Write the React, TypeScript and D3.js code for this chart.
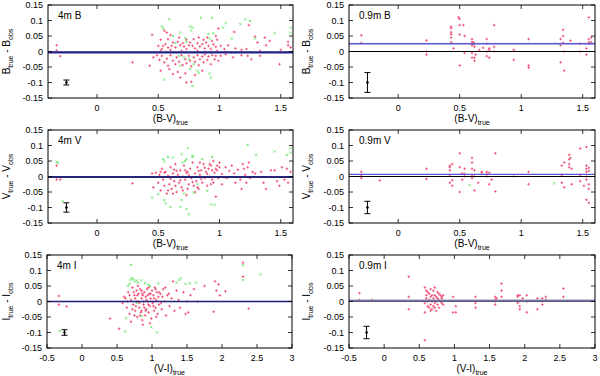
import { useEffect, useRef } from 'react';
import * as d3 from 'd3';

type Pt = [number, number];

const yTicks = [-0.15, -0.1, -0.05, 0, 0.05, 0.1, 0.15];
const bvTicks = [0, 0.5, 1, 1.5];
const viTicks = [-0.5, 0, 0.5, 1, 1.5, 2, 2.5, 3];

// 4m telescope, B band: [ (B-V)true , Btrue - Bobs ]
const red4mB: Pt[] = [
  [-0.33, 0.02], [-0.33, 0.003], [-0.3, -0.015], [0.29, -0.035], [0.43, -0.046], [0.45, 0.054], [0.46, -0.019],
  [0.49, -0.012], [0.5, 0.018], [0.51, -0.027], [0.52, 0.038], [0.52, 0.002], [0.52, -0.062], [0.53, -0.014],
  [0.53, 0.008], [0.54, 0.018], [0.55, 0.067], [0.55, -0.035], [0.56, 0.024], [0.56, -0.001], [0.57, 0.061],
  [0.57, -0.023], [0.58, 0.013], [0.58, -0.046], [0.58, 0.04], [0.59, -0.057], [0.6, 0.053], [0.6, -0.012],
  [0.6, 0.005], [0.61, 0.018], [0.62, 0.029], [0.62, -0.03], [0.62, -0.073], [0.64, 0.013], [0.64, -0.041],
  [0.65, -0.019], [0.65, -0.003], [0.66, 0.031], [0.66, -0.066], [0.67, -0.033], [0.67, 0.045], [0.68, 0.02],
  [0.68, -0.084], [0.69, -0.012], [0.69, 0.002], [0.7, 0.027], [0.7, -0.044], [0.71, 0.016], [0.72, -0.025],
  [0.72, -0.07], [0.73, 0.038], [0.73, -0.038], [0.73, 0.008], [0.73, -0.1], [0.75, 0.02], [0.75, -0.014],
  [0.76, 0.029], [0.76, -0.03], [0.76, -0.001], [0.77, -0.048], [0.77, -0.098], [0.78, 0.018], [0.79, -0.019],
  [0.79, 0.04], [0.8, 0.01], [0.8, -0.033], [0.8, -0.076], [0.82, 0.027], [0.82, -0.012], [0.82, 0.002],
  [0.83, -0.044], [0.83, 0.045], [0.84, 0.016], [0.84, -0.025], [0.86, 0.024], [0.86, -0.016], [0.86, -0.062],
  [0.87, -0.035], [0.87, 0.038], [0.88, 0.01], [0.88, -0.009], [0.88, -0.001], [0.89, 0.029], [0.9, -0.027],
  [0.9, 0.045], [0.91, 0.018], [0.91, -0.016], [0.93, 0.008], [0.93, -0.041], [0.93, -0.003], [0.94, -0.012],
  [0.94, 0.034], [0.95, 0.023], [0.96, -0.025], [0.97, 0.015], [0.97, -0.014], [0.97, 0.05], [0.98, 0.038],
  [0.98, 0.002], [0.99, 0.074], [0.99, -0.03], [1.01, 0.018], [1.01, -0.014], [1.04, 0.008], [1.05, -0.009],
  [1.07, 0.02], [1.11, -0.019], [1.12, 0.063], [1.13, 0.01], [1.18, 0.005], [1.18, -0.012], [1.22, 0.008],
  [1.23, -0.014], [1.24, 0.085], [1.26, -0.025], [1.29, 0.048], [1.31, 0.029], [1.33, 0.002], [1.33, -0.014],
  [1.37, 0.045], [1.38, 0.02], [1.41, 0.034], [1.49, -0.041], [1.5, 0.005], [1.54, -0.003], [1.56, 0.031],
  [1.56, 0.02], [1.58, 0.013],
];
const green4mB: Pt[] = [
  [0.53, 0.081], [0.54, 0.074], [0.55, -0.091], [0.59, 0.104], [0.62, 0.05], [0.64, 0.027], [0.67, -0.014],
  [0.68, 0.061], [0.68, -0.046], [0.71, -0.019], [0.72, 0.043], [0.73, 0.031], [0.75, -0.025], [0.76, 0.08],
  [0.76, -0.057], [0.77, 0.067], [0.78, 0.077], [0.78, -0.111], [0.79, -0.041], [0.82, -0.062], [0.83, -0.07],
  [0.85, 0.109], [0.91, 0.056], [0.92, 0.042], [0.92, -0.071], [0.93, -0.084], [0.94, 0.109], [0.95, 0.059],
  [1.03, 0.077], [1.05, 0.091], [1.1, 0.042], [1.17, 0.088], [1.21, 0.104], [1.25, 0.098], [1.29, 0.042],
  [1.45, 0.059], [1.58, 0.077], [1.58, 0.061],
];

// 4m telescope, V band: [ (B-V)true , Vtrue - Vobs ]
const red4mV: Pt[] = [
  [-0.33, 0.035], [-0.33, -0.01], [-0.3, -0.01], [0.29, -0.022], [0.45, 0.01], [0.46, -0.035], [0.48, 0.012],
  [0.5, -0.02], [0.51, 0.005], [0.52, -0.045], [0.52, 0.015], [0.53, 0.025], [0.54, -0.01], [0.55, -0.03],
  [0.55, 0.012], [0.56, 0.015], [0.57, -0.055], [0.58, 0.002], [0.58, -0.045], [0.59, -0.025], [0.6, 0.03],
  [0.6, -0.008], [0.61, -0.04], [0.62, 0.01], [0.62, -0.055], [0.63, -0.015], [0.63, 0.022], [0.64, 0.04],
  [0.64, -0.03], [0.65, -0.05], [0.65, 0.018], [0.66, 0.005], [0.67, -0.02], [0.68, 0.02], [0.68, -0.012],
  [0.69, -0.035], [0.7, 0.0], [0.7, -0.045], [0.71, 0.035], [0.72, -0.01], [0.72, 0.02], [0.73, -0.06],
  [0.73, 0.012], [0.74, 0.015], [0.74, -0.04], [0.75, -0.025], [0.75, 0.005], [0.76, 0.025], [0.77, -0.005],
  [0.78, 0.045], [0.78, -0.018], [0.79, -0.03], [0.8, 0.01], [0.8, -0.05], [0.81, -0.015], [0.82, 0.03],
  [0.82, -0.035], [0.83, -0.04], [0.83, 0.018], [0.84, 0.005], [0.84, 0.045], [0.85, 0.02], [0.85, -0.008],
  [0.86, -0.02], [0.87, 0.04], [0.88, -0.005], [0.88, 0.028], [0.89, 0.015], [0.9, -0.03], [0.9, 0.008],
  [0.91, 0.025], [0.92, 0.0], [0.92, 0.04], [0.93, 0.035], [0.93, -0.025], [0.94, -0.01], [0.94, 0.02],
  [0.95, 0.05], [0.95, -0.02], [0.96, 0.012], [0.97, -0.065], [0.97, 0.025], [0.98, 0.02], [0.98, 0.035],
  [0.99, -0.005], [1.0, 0.03], [1.0, 0.045], [1.02, 0.008], [1.02, -0.025], [1.04, -0.002], [1.05, 0.03],
  [1.06, -0.005], [1.08, 0.018], [1.1, 0.035], [1.12, 0.01], [1.13, -0.02], [1.15, 0.022], [1.17, -0.01],
  [1.18, -0.04], [1.19, 0.04], [1.2, 0.025], [1.21, 0.005], [1.22, -0.02], [1.23, 0.03], [1.24, 0.045],
  [1.25, -0.005], [1.27, 0.015], [1.29, 0.01], [1.34, 0.015], [1.36, -0.02], [1.38, -0.04], [1.42, 0.02],
  [1.45, 0.02], [1.47, -0.015], [1.49, -0.03], [1.51, 0.03], [1.53, -0.01], [1.55, 0.025], [1.56, -0.02],
  [1.58, 0.015],
];
const green4mV: Pt[] = [
  [-0.33, 0.047], [-0.32, 0.044], [-0.28, -0.08], [0.45, -0.068], [0.5, -0.057], [0.54, 0.056], [0.55, 0.048],
  [0.55, -0.076], [0.56, -0.087], [0.58, 0.063], [0.6, -0.098], [0.62, 0.061], [0.68, -0.098], [0.69, 0.072],
  [0.69, -0.076], [0.7, 0.045], [0.71, -0.055], [0.72, 0.05], [0.73, 0.056], [0.73, -0.105], [0.74, 0.091],
  [0.75, -0.122], [0.78, 0.067], [0.78, 0.063], [0.79, -0.052], [0.82, -0.025], [0.86, 0.056], [0.9, -0.046],
  [0.93, -0.09], [0.94, 0.063], [0.96, -0.091], [1.23, 0.102], [1.3, 0.07], [1.45, 0.081], [1.55, 0.07],
  [1.58, 0.077], [1.58, 0.091],
];

// 4m telescope, I band: [ (V-I)true , Itrue - Iobs ]
const red4mI: Pt[] = [
  [-0.33, 0.018], [-0.33, -0.01], [-0.22, -0.016], [0.4, -0.055], [0.53, -0.088], [0.58, -0.005], [0.6, 0.015],
  [0.62, 0.01], [0.64, -0.02], [0.65, 0.0], [0.66, 0.03], [0.68, -0.04], [0.68, 0.02], [0.7, 0.005],
  [0.7, -0.065], [0.72, 0.045], [0.72, -0.025], [0.73, -0.01], [0.74, 0.03], [0.75, 0.02], [0.75, -0.045],
  [0.76, -0.03], [0.76, 0.01], [0.77, -0.015], [0.78, 0.035], [0.78, 0.0], [0.79, -0.05], [0.79, 0.02],
  [0.8, 0.0], [0.8, 0.05], [0.81, 0.025], [0.82, -0.02], [0.82, -0.005], [0.83, 0.04], [0.83, -0.045],
  [0.84, -0.035], [0.85, 0.01], [0.85, 0.035], [0.85, -0.03], [0.86, -0.06], [0.86, 0.025], [0.87, 0.02],
  [0.87, -0.075], [0.88, -0.01], [0.88, 0.0], [0.89, 0.03], [0.89, -0.02], [0.9, -0.045], [0.91, 0.015],
  [0.91, -0.03], [0.92, -0.025], [0.92, 0.005], [0.93, 0.04], [0.94, 0.0], [0.94, 0.02], [0.95, -0.035],
  [0.95, 0.045], [0.95, -0.01], [0.96, 0.025], [0.97, -0.015], [0.97, -0.07], [0.98, 0.01], [0.98, 0.025],
  [0.99, -0.055], [1.0, 0.035], [1.0, 0.0], [1.01, -0.005], [1.02, 0.02], [1.02, -0.015], [1.03, -0.03],
  [1.03, 0.01], [1.04, 0.045], [1.05, -0.02], [1.05, 0.04], [1.06, 0.005], [1.06, -0.05], [1.07, 0.03],
  [1.08, -0.04], [1.09, 0.015], [1.1, -0.01], [1.1, 0.03], [1.12, 0.025], [1.13, -0.005], [1.14, -0.025],
  [1.15, 0.015], [1.16, 0.04], [1.18, 0.0], [1.19, 0.045], [1.2, -0.045], [1.22, 0.02], [1.24, 0.025],
  [1.25, -0.015], [1.28, 0.01], [1.3, 0.065], [1.32, -0.03], [1.35, 0.035], [1.38, 0.005], [1.4, -0.02],
  [1.45, 0.03], [1.48, -0.04], [1.5, 0.0], [1.52, -0.035], [1.55, 0.02], [1.6, 0.04], [1.65, 0.0],
  [1.75, 0.05], [1.88, -0.033], [1.9, 0.065], [1.92, 0.035], [1.95, 0.055], [1.97, 0.02], [2.05, 0.033],
  [2.3, 0.125], [2.3, 0.08], [2.38, -0.023],
];
const green4mI: Pt[] = [
  [-0.32, -0.095], [0.62, -0.097], [0.63, -0.054], [0.66, 0.05], [0.68, 0.057], [0.69, 0.07], [0.7, 0.118],
  [0.71, 0.075], [0.73, 0.072], [0.75, 0.065], [0.78, 0.068], [0.78, -0.005], [0.8, 0.061], [0.85, 0.068],
  [0.85, -0.048], [0.9, 0.059], [0.95, 0.054], [0.97, 0.05], [0.99, -0.083], [1.07, -0.1], [1.09, 0.059],
  [1.35, 0.061], [1.39, 0.07], [1.41, 0.075], [1.48, 0.057], [1.54, 0.059], [1.63, 0.061], [2.3, 0.117],
  [2.3, 0.07], [2.55, 0.087],
];

// 0.9m telescope, B band
const red09B: Pt[] = [
  [-0.3, 0.052], [-0.3, 0.027], [0.23, 0.036], [0.23, 0.0], [0.23, -0.01], [0.43, 0.08], [0.43, 0.075],
  [0.43, 0.062], [0.43, 0.055], [0.43, 0.045], [0.43, 0.03], [0.45, 0.01], [0.49, 0.11], [0.5, 0.105],
  [0.5, 0.085], [0.5, 0.055], [0.5, -0.045], [0.53, 0.085], [0.54, 0.05], [0.54, -0.005], [0.6, 0.04],
  [0.6, 0.03], [0.6, 0.022], [0.6, 0.02], [0.6, -0.005], [0.6, -0.02], [0.61, 0.03], [0.61, 0.026],
  [0.62, 0.025], [0.62, -0.03], [0.62, -0.02], [0.62, 0.015], [0.63, -0.01], [0.66, 0.005], [0.69, 0.012],
  [0.72, 0.04], [0.72, 0.025], [0.72, 0.0], [0.72, -0.015], [0.74, 0.005], [0.74, -0.02], [0.74, 0.01],
  [0.78, 0.085], [0.78, 0.015], [0.78, 0.0], [0.94, 0.005], [0.94, -0.027], [1.06, 0.04], [1.06, -0.045],
  [1.06, -0.052], [1.32, 0.04], [1.32, -0.035], [1.32, 0.02], [1.34, 0.07], [1.34, 0.05], [1.34, 0.028],
  [1.35, -0.062], [1.35, 0.0], [1.4, 0.035], [1.48, 0.025], [1.48, 0.0], [1.53, 0.01], [1.53, -0.01],
  [1.55, 0.11], [1.55, 0.04], [1.55, 0.03], [1.55, 0.025], [1.57, 0.045], [1.57, 0.03],
];

// 0.9m telescope, V band
const red09V: Pt[] = [
  [-0.3, 0.015], [-0.3, 0.005], [-0.3, -0.005], [-0.15, -0.013], [0.23, 0.025], [0.23, -0.008], [0.42, 0.03],
  [0.42, 0.035], [0.42, 0.02], [0.42, 0.005], [0.42, -0.02], [0.44, -0.012], [0.44, -0.03], [0.44, 0.04],
  [0.5, 0.075], [0.5, 0.03], [0.5, -0.05], [0.52, 0.01], [0.52, -0.01], [0.54, 0.025], [0.54, 0.008],
  [0.54, 0.0], [0.6, 0.06], [0.6, 0.045], [0.6, 0.025], [0.6, 0.005], [0.6, -0.005], [0.62, 0.02],
  [0.62, 0.0], [0.62, -0.045], [0.65, -0.02], [0.68, 0.015], [0.68, 0.012], [0.72, 0.015], [0.72, 0.008],
  [0.72, 0.0], [0.74, 0.012], [0.74, -0.025], [0.76, -0.01], [0.79, 0.075], [0.79, -0.048], [0.94, 0.0],
  [1.06, 0.015], [1.06, -0.025], [1.33, 0.035], [1.33, 0.005], [1.33, -0.02], [1.35, 0.045], [1.35, -0.035],
  [1.39, 0.07], [1.39, 0.055], [1.4, 0.06], [1.39, 0.04], [1.39, 0.03], [1.41, 0.025], [1.41, -0.025],
  [1.48, 0.09], [1.48, 0.005], [1.48, -0.015], [1.51, -0.03], [1.53, 0.095], [1.53, 0.035], [1.53, 0.025],
  [1.53, 0.015], [1.53, 0.0], [1.53, -0.01], [1.53, -0.075], [1.55, 0.028], [1.55, 0.018], [1.55, -0.025],
  [1.55, -0.04], [1.55, -0.085],
];
const green09V: Pt[] = [[0.58, -0.028], [1.27, -0.022]];

// 0.9m telescope, I band
const red09I: Pt[] = [
  [-0.35, 0.027], [-0.35, 0.005], [-0.17, 0.005], [0.35, 0.08], [0.35, 0.015], [0.35, -0.025], [0.58, 0.045],
  [0.58, -0.005], [0.58, -0.035], [0.58, -0.125], [0.6, 0.035], [0.6, 0.02], [0.6, 0.01], [0.62, 0.03],
  [0.62, 0.0], [0.62, -0.015], [0.64, 0.025], [0.64, 0.005], [0.64, -0.02], [0.66, 0.04], [0.66, 0.015],
  [0.66, -0.01], [0.66, -0.03], [0.68, 0.02], [0.68, 0.0], [0.68, -0.025], [0.7, 0.035], [0.7, 0.01],
  [0.7, -0.015], [0.72, 0.045], [0.72, 0.02], [0.72, -0.005], [0.72, -0.02], [0.74, 0.015], [0.74, 0.0],
  [0.74, -0.03], [0.76, 0.03], [0.76, 0.01], [0.76, -0.01], [0.78, 0.025], [0.78, 0.005], [0.78, -0.02],
  [0.8, 0.02], [0.8, 0.0], [0.82, 0.015], [0.82, -0.005], [0.82, 0.01], [0.84, 0.02], [0.84, -0.01],
  [0.98, 0.015], [0.98, -0.035], [1.02, -0.015], [1.02, -0.035], [1.3, 0.015], [1.3, -0.005], [1.3, -0.02],
  [1.58, 0.015], [1.58, 0.005], [1.58, 0.0], [1.58, -0.01], [1.6, 0.01], [1.67, 0.058], [1.67, 0.035],
  [1.67, 0.015], [1.9, 0.02], [1.9, 0.015], [1.9, -0.005], [1.93, 0.02], [1.93, 0.0], [1.93, -0.015],
  [1.93, -0.025], [1.97, 0.01], [2.03, 0.02], [2.03, 0.0], [2.03, -0.035], [2.18, 0.01], [2.18, -0.025],
  [2.25, 0.01], [2.25, 0.0], [2.25, -0.01], [2.3, 0.015], [2.3, 0.005], [2.55, 0.042], [2.55, 0.015],
];

// mean offsets (line, half band width) and the typical error bar, per panel
const meanOffsets = [-0.003, 0.025, -0.002, 0.007, 0.0, 0.003];
const bandHalfWidths = [0.004, 0.003, 0.002, 0.0015, 0.0018, 0.004];
const errorHalf = [0.008, 0.032, 0.015, 0.02, 0.009, 0.02];

const rowTop = [5, 130, 255];
const plotH = 93;
const colLeft = [48, 349];
const yTitleX = [10, 310];
const plotW = 245;

const panels = [
  { title: '4m B', band: 'B', xName: 'B-V', xDomain: [-0.4, 1.6], xTicks: bvTicks, red: red4mB, green: green4mB, row: 0, col: 0, big: true },
  { title: '0.9m B', band: 'B', xName: 'B-V', xDomain: [-0.4, 1.6], xTicks: bvTicks, red: red09B, green: [] as Pt[], row: 0, col: 1, big: false },
  { title: '4m V', band: 'V', xName: 'B-V', xDomain: [-0.4, 1.6], xTicks: bvTicks, red: red4mV, green: green4mV, row: 1, col: 0, big: true },
  { title: '0.9m V', band: 'V', xName: 'B-V', xDomain: [-0.4, 1.6], xTicks: bvTicks, red: red09V, green: green09V, row: 1, col: 1, big: false },
  { title: '4m I', band: 'I', xName: 'V-I', xDomain: [-0.5, 3], xTicks: viTicks, red: red4mI, green: green4mI, row: 2, col: 0, big: true },
  { title: '0.9m I', band: 'I', xName: 'V-I', xDomain: [-0.5, 3], xTicks: viTicks, red: red09I, green: [] as Pt[], row: 2, col: 1, big: false },
];

const font = '"Liberation Sans", Arial, sans-serif';

export default function App() {
  const ref = useRef<SVGSVGElement>(null);

  useEffect(() => {
    const svg = d3.select(ref.current);
    svg.selectAll('*').remove();

    panels.forEach((p, i) => {
      const left = p.col === 0 && p.row === 2 ? 47 : colLeft[p.col];
      const top = rowTop[p.row];
      const w = p.col === 1 ? plotW + 1 : plotW;
      const x = d3.scaleLinear().domain(p.xDomain).range([0, w]);
      const y = d3.scaleLinear().domain([-0.15, 0.15]).range([plotH, 0]);
      const g = svg.append('g').attr('transform', `translate(${left},${top})`);

      // points
      const s = 1.3;
      g.selectAll('path.red')
        .data(p.red)
        .join('path')
        .attr('class', 'red')
        .attr('d', (d) => `M${x(d[0]) - s},${y(d[1])}h${2 * s}M${x(d[0])},${y(d[1]) - s}v${2 * s}`)
        .attr('stroke', '#ee3a64')
        .attr('stroke-width', 0.75);
      g.selectAll('path.green')
        .data(p.green)
        .join('path')
        .attr('class', 'green')
        .attr('d', (d) => `M${x(d[0]) - 1.1},${y(d[1]) - 1.1}l2.2,2.2M${x(d[0]) - 1.1},${y(d[1]) + 1.1}l2.2,-2.2`)
        .attr('stroke', '#4fe04f')
        .attr('stroke-width', 0.75);

      // zero line and mean offset
      g.append('line').attr('x1', 0).attr('x2', w).attr('y1', y(0)).attr('y2', y(0))
        .attr('stroke', '#000').attr('stroke-width', 1);
      const m = meanOffsets[i];
      const hw = bandHalfWidths[i];
      g.append('rect')
        .attr('x', 0).attr('width', w)
        .attr('y', y(m + hw)).attr('height', y(m - hw) - y(m + hw))
        .attr('fill', i === 5 ? '#9494b8' : '#8a8ae6')
        .attr('opacity', p.big ? 0.9 : 0.75);
      g.append('line').attr('x1', 0).attr('x2', w).attr('y1', y(m)).attr('y2', y(m))
        .attr('stroke', p.big ? '#22227a' : i === 5 ? '#7070a8' : '#4848c8')
        .attr('stroke-width', p.big ? 1.6 : 1);

      // typical error bar
      const ex = x(-0.25);
      const e = errorHalf[i];
      g.append('path')
        .attr('d', `M${ex},${y(-0.1 + e)}V${y(-0.1 - e)}M${ex - 3},${y(-0.1 + e)}h6M${ex - 3},${y(-0.1 - e)}h6`)
        .attr('stroke', '#000').attr('stroke-width', 1).attr('fill', 'none');
      g.append('circle').attr('cx', ex).attr('cy', y(-0.1)).attr('r', 1.3).attr('fill', '#000');

      // frame with inward ticks on all sides
      g.append('rect').attr('width', w).attr('height', plotH)
        .attr('fill', 'none').attr('stroke', '#000').attr('stroke-width', 1);
      const tl = 4;
      g.selectAll('path.ytick')
        .data(yTicks)
        .join('path')
        .attr('class', 'ytick')
        .attr('d', (v) => `M0,${y(v)}h${tl}M${w},${y(v)}h${-tl}`)
        .attr('stroke', '#000').attr('stroke-width', 0.8);
      g.selectAll('path.xtick')
        .data(p.xTicks)
        .join('path')
        .attr('class', 'xtick')
        .attr('d', (v) => `M${x(v)},${plotH}v${-tl}M${x(v)},0v${tl}`)
        .attr('stroke', '#000').attr('stroke-width', 0.8);

      g.selectAll('text.ylab')
        .data(yTicks)
        .join('text')
        .attr('class', 'ylab')
        .attr('x', -5)
        .attr('y', (v) => y(v) + 3.2)
        .attr('text-anchor', 'end')
        .attr('font-family', font)
        .attr('font-size', 9)
        .text((v) => String(v));
      g.selectAll('text.xlab')
        .data(p.xTicks)
        .join('text')
        .attr('class', 'xlab')
        .attr('x', (v) => x(v))
        .attr('y', plotH + 13)
        .attr('text-anchor', 'middle')
        .attr('font-family', font)
        .attr('font-size', 9)
        .text((v) => String(v));

      // panel title
      g.append('text')
        .attr('x', 10).attr('y', 14)
        .attr('font-family', font).attr('font-size', 10)
        .text(p.title);

      // x axis title
      const xt = g.append('text')
        .attr('x', w / 2).attr('y', plotH + 24)
        .attr('text-anchor', 'middle')
        .attr('font-family', font).attr('font-size', 10);
      xt.append('tspan').text(`(${p.xName})`);
      xt.append('tspan').attr('font-size', 7).attr('dy', 3).text('true');

      // y axis title
      const yt = g.append('text')
        .attr('transform', `translate(${yTitleX[p.col] - left},${plotH / 2}) rotate(-90)`)
        .attr('text-anchor', 'middle')
        .attr('font-family', font).attr('font-size', 10);
      yt.append('tspan').text(p.band);
      yt.append('tspan').attr('font-size', 7).attr('dy', 3).text('true');
      yt.append('tspan').attr('dy', -3).text(` - ${p.band}`);
      yt.append('tspan').attr('font-size', 7).attr('dy', 3).text('obs');
    });
  }, []);

  return (
    <svg
      ref={ref}
      width={600}
      height={376}
      style={{ position: 'absolute', left: 0, top: 0, background: '#fff' }}
    />
  );
}
